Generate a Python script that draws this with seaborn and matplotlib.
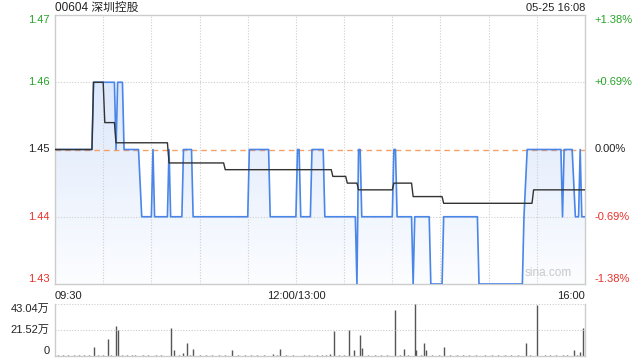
import numpy as np
import pandas as pd
import matplotlib
matplotlib.use('Agg')
import matplotlib.pyplot as plt
from matplotlib.colors import LinearSegmentedColormap
import seaborn as sns

# minute index since 09:30 (lunch break removed), 330 = 16:00
price_minutes = [0, 23, 24, 37, 38, 39, 42, 43, 52, 54, 60, 61, 62, 70, 71, 72, 79, 80, 85, 86,
                 120, 121, 133, 134, 150, 151, 152, 153, 159, 160, 167, 168, 187, 188, 189, 190,
                 191, 210, 211, 212, 213, 222, 223, 224, 233, 234, 241, 242, 263, 264, 291, 292,
                 294, 315, 316, 317, 322, 324, 326, 327, 328, 330]
price_values = [1.45, 1.45, 1.46, 1.46, 1.45, 1.46, 1.46, 1.45, 1.45, 1.44, 1.44, 1.45, 1.44, 1.44,
                1.45, 1.44, 1.44, 1.45, 1.45, 1.44, 1.44, 1.45, 1.45, 1.44, 1.44, 1.45, 1.45, 1.44,
                1.44, 1.45, 1.45, 1.44, 1.44, 1.43, 1.45, 1.45, 1.44, 1.44, 1.45, 1.45, 1.44, 1.44,
                1.43, 1.44, 1.44, 1.43, 1.43, 1.44, 1.44, 1.43, 1.43, 1.44, 1.45, 1.45, 1.44, 1.45,
                1.45, 1.44, 1.44, 1.45, 1.44, 1.44]

avg_minutes = [0, 23, 24, 30, 31, 37, 38, 70, 71, 105, 106, 172, 173, 181, 182, 188, 189,
               210, 211, 222, 223, 241, 242, 297, 298, 330]
avg_values = [1.45, 1.45, 1.46, 1.46, 1.454, 1.454, 1.451, 1.451, 1.448, 1.448, 1.447, 1.447,
              1.446, 1.446, 1.445, 1.445, 1.444, 1.444, 1.445, 1.445, 1.443, 1.443, 1.442,
              1.442, 1.444, 1.444]

vol_minutes = [2, 5, 8, 12, 15, 18, 21, 24, 27, 30, 33, 35, 38, 39, 42, 45, 48, 50, 55, 58, 63,
               66, 72, 74, 77, 80, 82, 84, 86, 90, 94, 98, 102, 106, 110, 114, 118, 122, 126,
               130, 136, 138, 140, 144, 148, 155, 158, 163, 166, 169, 171, 174, 177, 180, 183,
               186, 190, 191, 195, 199, 203, 207, 212, 215, 217, 220, 224, 225, 228, 230, 231,
               235, 239, 242, 246, 250, 254, 258, 262, 268, 272, 276, 280, 284, 288, 293, 296,
               300, 305, 308, 312, 316, 319, 323, 325, 327, 329]
vol_values = [3000, 2000, 4000, 3000, 2000, 5000, 3000, 72000, 6000, 4000, 139000, 5000, 249000,
              215000, 8000, 3000, 4000, 3000, 4000, 3000, 2000, 3000, 232000, 46000, 5000, 20000,
              105000, 8000, 55000, 4000, 3000, 5000, 4000, 3000, 46000, 4000, 3000, 6000, 4000,
              3000, 15000, 5000, 55000, 4000, 3000, 5000, 4000, 6000, 8000, 8000, 12000, 207000,
              4000, 6000, 215000, 46000, 173000, 66000, 5000, 3000, 4000, 3000, 384000, 6000,
              55000, 4000, 430400, 46000, 5000, 105000, 46000, 3000, 4000, 72000, 5000, 3000,
              4000, 3000, 5000, 4000, 3000, 4000, 3000, 5000, 4000, 105000, 6000, 418000, 4000,
              5000, 3000, 6000, 4000, 46000, 8000, 30000, 232000]

prev_close = 1.45
price_ticks = [1.43, 1.44, 1.45, 1.46, 1.47]
price_labels = ['1.43', '1.44', '1.45', '1.46', '1.47']
pct_labels = ['-1.38%', '-0.69%', '0.00%', '+0.69%', '+1.38%']
tick_colors = ['#e8322b', '#e8322b', '#222222', '#27a32a', '#27a32a']
tick_va = ['bottom', 'center', 'center', 'center', 'top']
time_ticks = [0, 150, 330]
time_labels = ['09:30', '12:00/13:00', '16:00']
vol_ticks = [0, 215200, 430400]
vol_labels = ['0', '21.52万', '43.04万']

sns.set_theme(style='white')
plt.rcParams['font.family'] = ['Liberation Sans', 'Noto Sans CJK SC', 'DejaVu Sans']
plt.rcParams['font.size'] = 8

fig = plt.figure(figsize=(6.4, 3.6), dpi=100)
ax = fig.add_axes([55 / 640, 1 - 284 / 360, 530 / 640, 269 / 360])
axv = fig.add_axes([55 / 640, 1 - 355.5 / 360, 530 / 640, 51.5 / 360])

price_df = pd.DataFrame({'minute': price_minutes, 'price': price_values})
avg_df = pd.DataFrame({'minute': avg_minutes, 'avg': avg_values})
vol_df = pd.DataFrame({'minute': vol_minutes, 'volume': vol_values})

# gradient fill under the price line
poly = ax.fill_between(price_df['minute'], price_df['price'], 1.43, color='none', lw=0)
cmap = LinearSegmentedColormap.from_list('fill', ['#fcfdff', '#d2e1fa'])
grad = np.linspace(0, 1, 256).reshape(-1, 1)
im = ax.imshow(grad, extent=[0, 330, 1.43, 1.47], origin='lower', aspect='auto',
               cmap=cmap, zorder=1)
im.set_clip_path(poly.get_paths()[0], transform=ax.transData)

# grid
for m in range(30, 330, 30):
    ax.axvline(m, color='#cfcfcf', lw=0.8, ls=(0, (1, 1.5)), zorder=2)
for p in [1.44, 1.46]:
    ax.axhline(p, color='#cfcfcf', lw=0.8, ls=(0, (1, 1.5)), zorder=2)
ax.axhline(prev_close, color='#f5a067', lw=1, ls=(0, (4, 3)), zorder=2)

sns.lineplot(data=price_df, x='minute', y='price', ax=ax, color='#4a86e8', lw=1.2, zorder=4)
sns.lineplot(data=avg_df, x='minute', y='avg', ax=ax, color='#333333', lw=1.0, zorder=5)

ax.set_xlim(0, 330)
ax.set_ylim(1.43, 1.47)
ax.set_xlabel('')
ax.set_ylabel('')
ax.set_yticks(price_ticks)
ax.set_yticklabels(price_labels)
ax.set_xticks(time_ticks)
ax.set_xticklabels(time_labels)
for lbl, ha in zip(ax.get_xticklabels(), ['left', 'center', 'right']):
    lbl.set_ha(ha)
ax.tick_params(axis='both', length=0, labelsize=8, colors='#222222')
ax.tick_params(axis='y', pad=4)
ax.tick_params(axis='x', pad=5)
for lbl, c, va in zip(ax.get_yticklabels(), tick_colors, tick_va):
    lbl.set_color(c)
    lbl.set_va(va)
for s in ax.spines.values():
    s.set_color('#cccccc')
    s.set_linewidth(1)

ax2 = ax.twinx()
ax2.set_ylim(1.43, 1.47)
ax2.set_yticks(price_ticks)
ax2.set_yticklabels(pct_labels)
ax2.tick_params(axis='y', length=0, labelsize=8, pad=7)
for lbl, c, va in zip(ax2.get_yticklabels(), tick_colors, tick_va):
    lbl.set_color(c)
    lbl.set_va(va)
for s in ax2.spines.values():
    s.set_visible(False)

ax.text(0.93, 0.02, 'sina.com', transform=ax.transAxes, ha='center', va='bottom',
        color='#c8c8c8', fontsize=8.5, zorder=6)

fig.text(55 / 640, 1 - 8 / 360, '00604 深圳控股', ha='left', va='center', fontsize=8.5,
         color='#222222')
fig.text(585 / 640, 1 - 8 / 360, '05-25 16:08', ha='right', va='center', fontsize=8,
         color='#222222')

# volume pane
axv.vlines(vol_df['minute'], 0, vol_df['volume'], color='#555555', lw=1)
axv.set_xlim(0, 330)
axv.set_ylim(0, 430400)
axv.axhline(430400, color='#cccccc', lw=0.8, ls=(0, (1, 1.5)))
axv.axhline(215200, color='#cccccc', lw=0.8, ls=(0, (1, 1.5)))
axv.set_xticks([])
axv.set_yticks(vol_ticks)
axv.set_yticklabels(vol_labels)
for lbl, va in zip(axv.get_yticklabels(), ['bottom', 'center', 'top']):
    lbl.set_va(va)
axv.tick_params(axis='y', length=0, labelsize=8, pad=4, colors='#222222')
axv.spines['top'].set_visible(False)
for k in ['left', 'right', 'bottom']:
    axv.spines[k].set_color('#cccccc')
    axv.spines[k].set_linewidth(1)

fig.savefig('out.png', dpi=100)
